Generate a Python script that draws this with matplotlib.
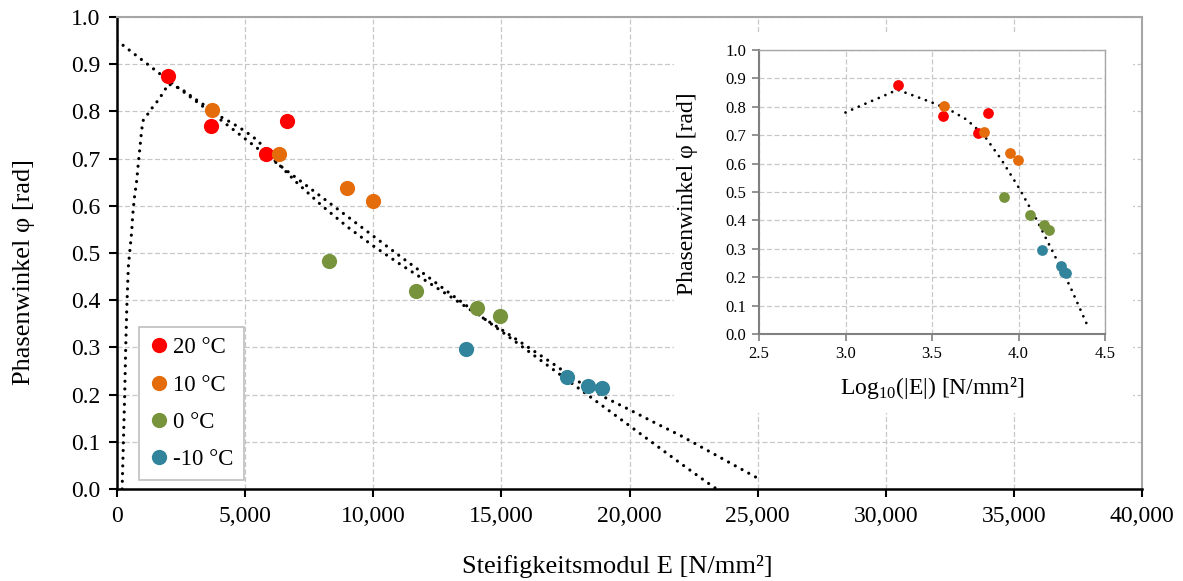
import numpy as np
import matplotlib
matplotlib.use("Agg")
import matplotlib.pyplot as plt
from matplotlib.lines import Line2D
from matplotlib.ticker import FuncFormatter

plt.rcParams['font.family'] = ['Liberation Serif', 'DejaVu Serif']
plt.rcParams['mathtext.fontset'] = 'custom'
plt.rcParams['mathtext.rm'] = 'Liberation Serif'

# Messwerte: Steifigkeitsmodul E [N/mm²] und Phasenwinkel [rad]
temps = ["20 °C", "10 °C", "0 °C", "-10 °C"]
colors = ["#FF0000", "#E46C0A", "#77933C", "#31849B"]
e_20 = [2003, 3668, 5802, 6647]
phi_20 = [0.876, 0.769, 0.709, 0.779]
e_10 = [3694, 6322, 8963, 9977]
phi_10 = [0.802, 0.710, 0.638, 0.611]
e_0 = [8286, 11655, 14035, 14959]
phi_0 = [0.482, 0.420, 0.384, 0.367]
e_m10 = [13620, 17548, 18367, 18914]
phi_m10 = [0.297, 0.238, 0.219, 0.215]

# Trendlinie (polynomisch in E)
trend_a_e = [0, 1000, 2000, 3000, 4000, 5000, 6000, 7000, 8000, 9000, 10000,
             11000, 12000, 13000, 14000, 15000, 16000, 17000, 18000, 19000,
             20000, 21000, 22000, 23000, 23400]
trend_a_phi = [0.950, 0.908, 0.866, 0.825, 0.784, 0.742, 0.700, 0.659, 0.618,
               0.577, 0.536, 0.495, 0.455, 0.414, 0.374, 0.334, 0.294, 0.254,
               0.214, 0.174, 0.134, 0.094, 0.054, 0.015, 0.0]

# Trendlinie aus dem log-Fit, zurueck in E
trend_b_e = [200, 250, 300, 340, 380, 442, 507, 573, 612, 676, 768, 832, 898,
             963, 1028, 1197, 1392, 1613, 1808, 2003, 2500, 3000, 3500, 4000,
             4500, 5000, 5500, 6000, 7000, 8000, 9000, 10000, 11000, 12000,
             13000, 14000, 15000, 16000, 17000, 18000, 19000, 20000, 21000,
             22000, 23000, 24000, 25000]
trend_b_phi = [0.0, 0.10, 0.20, 0.30, 0.38, 0.471, 0.508, 0.545, 0.580, 0.616,
               0.653, 0.690, 0.725, 0.761, 0.782, 0.794, 0.809, 0.824, 0.840,
               0.858, 0.848, 0.828, 0.810, 0.790, 0.775, 0.758, 0.738, 0.705,
               0.650, 0.600, 0.555, 0.515, 0.478, 0.443, 0.408, 0.372, 0.338,
               0.302, 0.266, 0.228, 0.195, 0.168, 0.140, 0.113, 0.083, 0.053,
               0.023]

# Trendlinie im Inset (log10 E)
trend_log_x = [3.0, 3.1, 3.2, 3.3, 3.4, 3.5, 3.6, 3.7, 3.8, 3.9, 4.0, 4.1,
               4.2, 4.3, 4.4]
trend_log_phi = [0.780, 0.807, 0.833, 0.860, 0.838, 0.815, 0.790, 0.755,
                 0.700, 0.615, 0.517, 0.408, 0.287, 0.165, 0.028]

groups = [(e_20, phi_20), (e_10, phi_10), (e_0, phi_0), (e_m10, phi_m10)]
W, H = 1183, 581
grid_col = "#C8C8C8"
dots = (0, (0.01, 2.4))

fig = plt.figure(figsize=(W / 100, H / 100), dpi=100)
ax = fig.add_axes([117 / W, 1 - 489 / H, 1025 / W, 472 / H])

ax.plot(trend_a_e, trend_a_phi, color="black", lw=2.3, linestyle=dots,
        dash_capstyle="round", zorder=2)
ax.plot(trend_b_e, trend_b_phi, color="black", lw=2.3, linestyle=dots,
        dash_capstyle="round", zorder=2)
for (e, phi), c in zip(groups, colors):
    ax.scatter(e, phi, s=120, color=c, zorder=3, linewidths=0)

ax.set_xlim(0, 40000)
ax.set_ylim(0, 1.0)
ax.set_xticks(np.arange(0, 40001, 5000))
ax.set_yticks(np.arange(0, 1.01, 0.1))
ax.xaxis.set_major_formatter(FuncFormatter(lambda v, p: f"{int(v):,}"))
ax.yaxis.set_major_formatter(FuncFormatter(lambda v, p: f"{v:.1f}"))
ax.grid(True, color=grid_col, linestyle=(0, (4, 2)), lw=0.9)
ax.set_axisbelow(True)
for s in ["left", "bottom"]:
    ax.spines[s].set_color("black")
    ax.spines[s].set_linewidth(1.8)
for s in ["top", "right"]:
    ax.spines[s].set_color("#A6A6A6")
    ax.spines[s].set_linewidth(1.5)
ax.tick_params(direction="out", length=6, width=1.5, labelsize=17, pad=6)

ax.set_xlabel("Steifigkeitsmodul E [N/mm²]", fontsize=19)
ax.xaxis.set_label_coords(0.488, (489 - 566) / 472)
ax.xaxis.label.set_va("center")
ax.set_ylabel("Phasenwinkel φ [rad]", fontsize=19)
ax.yaxis.set_label_coords((24 - 117) / 1025, 0.46)
ax.yaxis.label.set_va("center")

handles = [Line2D([], [], marker="o", linestyle="none", markersize=11,
                  markerfacecolor=c, markeredgewidth=0) for c in colors]
leg = ax.legend(handles, temps, loc="lower left",
                bbox_to_anchor=(0.0215, 0.019), borderaxespad=0,
                fontsize=16.5, handlelength=0.8, handletextpad=0.25,
                labelspacing=0.7, borderpad=0.45, fancybox=False,
                framealpha=1, edgecolor="#BFBFBF")
leg.get_frame().set_linewidth(1.2)

# weisser Hintergrund fuer das Inset
bg = fig.add_axes([674 / W, 1 - 413 / H, 459 / W, 381 / H])
bg.set_xticks([])
bg.set_yticks([])
for s in bg.spines.values():
    s.set_visible(False)
bg.set_facecolor("white")

ins = fig.add_axes([759 / W, 1 - 334 / H, 346 / W, 284 / H])
ins.plot(trend_log_x, trend_log_phi, color="black", lw=2.0,
         linestyle=(0, (0.01, 2.6)), dash_capstyle="round", zorder=2)
for (e, phi), c in zip(groups, colors):
    ins.scatter(np.log10(e), phi, s=60, color=c, zorder=3, linewidths=0)
ins.set_xlim(2.5, 4.5)
ins.set_ylim(0, 1.0)
ins.set_xticks(np.arange(2.5, 4.51, 0.5))
ins.set_yticks(np.arange(0, 1.01, 0.1))
ins.xaxis.set_major_formatter(FuncFormatter(lambda v, p: f"{v:.1f}"))
ins.yaxis.set_major_formatter(FuncFormatter(lambda v, p: f"{v:.1f}"))
ins.grid(True, color=grid_col, linestyle=(0, (4, 2)), lw=0.9)
ins.set_axisbelow(True)
for s in ["left", "bottom"]:
    ins.spines[s].set_color("#808080")
    ins.spines[s].set_linewidth(1.5)
for s in ["top", "right"]:
    ins.spines[s].set_color("#A6A6A6")
    ins.spines[s].set_linewidth(1.0)
ins.tick_params(direction="out", length=5, width=1.2, color="#808080",
                labelsize=12, pad=4)
ins.set_xlabel("Log$_{10}$(|E|) [N/mm²]", fontsize=17)
ins.xaxis.set_label_coords(0.5, (334 - 388) / 284)
ins.xaxis.label.set_va("center")
ins.set_ylabel("Phasenwinkel φ [rad]", fontsize=17)
ins.yaxis.set_label_coords((687 - 759) / 346, 0.493)
ins.yaxis.label.set_va("center")

fig.savefig("out.png", dpi=100)
